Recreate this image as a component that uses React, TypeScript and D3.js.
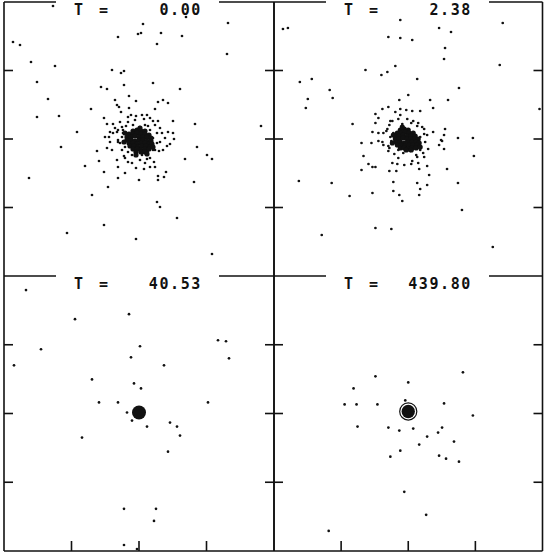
import React from "react";
import * as d3 from "d3";

// Elapsed time of each snapshot
const times = [0.0, 2.38, 40.53, 439.8];

// Star positions in model units relative to cluster centre (x right, y up)
const starsT0: [number, number][] = [
  [-86,133],[4,115],[47,122],[89,116],[-21,102],[-1,105],[2,106],[22,106],[43,103],[18,95],
  [-126,97],[-119,94],[88,85],[-108,77],[-84,73],[-27,69],[-18,66],[-15,68],[14,56],[-102,57],
  [-15,54],[-38,52],[-32,50],[41,50],[-91,40],[-10,43],[-24,39],[-3,38],[19,37],[24,39],
  [29,36],[-22,34],[-20,32],[-48,30],[-10,31],[16,30],[-18,27],[-102,22],[-80,23],[-35,21],
  [-11,22],[-8,24],[-3,23],[3,24],[8,24],[5,20],[14,18],[19,18],[34,18],[56,15],
  [-32,15],[-26,15],[-13,13],[-6,14],[1,12],[9,13],[122,13],[-62,7],[29,7],[34,6],
  [-34,2],[-30,2],[-22,7],[-16,6],[18,6],[-29,-3],[-19,-4],[21,-3],[31,-5],[35,0],
  [-78,-8],[-42,-12],[-32,-9],[-17,-11],[20,-12],[28,-7],[58,-8],[68,-16],[73,-20],[46,-20],
  [-40,-22],[-22,-21],[-14,-19],[1,-21],[8,-20],[15,-23],[-54,-27],[-21,-28],[-7,-24],[-3,-29],
  [5,-30],[11,-28],[16,-28],[-35,-33],[-14,-34],[27,-33],[19,-37],[25,-38],[-21,-39],[0,-41],
  [19,-41],[55,-43],[-110,-39],[-31,-48],[-47,-56],[18,-63],[21,-68],[38,-79],[-35,-86],[-72,-94],
  [-3,-100],[73,-115],[-24,11],[-19,17],[21,11],[26,1],[24,-11],[-27,-11],[11,-19],[-11,-23],
  [6,-24],[-21,-1],[16,14],[-17,12],[23,6],[-29,7],[-4,19],[11,21],[-15,-17],[14,-11],
  [-21,9],[-26,6],[-17,2],[-21,-3],[-14,-8],[-11,-13],[-7,-16],[3,-16],[9,-13],[16,-11],
  [18,-4],[14,1],[11,9],[6,14],[-11,17],[-16,9],
];
const coreT0: [number, number][] = [
  [-6,8],[-2,9],[2,8],[6,8],
  [-10,5],[-6,5],[-2,6],[2,5],[6,5],[10,4],
  [-12,2],[-8,2],[-4,3],[0,2],[4,2],[8,2],[12,1],
  [-12,-1],[-8,-1],[-4,-2],[0,-1],[4,-1],[8,-2],[12,-2],
  [-10,-4],[-6,-4],[-2,-5],[2,-4],[6,-4],[10,-5],[13,-5],
  [-9,-7],[-5,-7],[-1,-8],[3,-7],[7,-7],[11,-8],
  [-6,-10],[-2,-10],[2,-11],[6,-10],[10,-10],
  [-3,-13],[2,-13],[6,-13],
  [-14,6],[-15,-3],[14,-8],[1,11],[-3,-16],[8,-15],
];

const starsT1: [number, number][] = [
  [-126,110],[-121,111],[-8,119],[31,111],[43,107],[95,116],[-20,102],[-8,101],[4,99],[37,91],
  [36,80],[92,74],[-43,69],[-27,64],[-21,67],[-13,73],[9,60],[-109,57],[-97,60],[-79,49],
  [-76,41],[51,51],[-101,40],[-103,31],[0,44],[-9,39],[22,39],[40,39],[25,31],[-20,32],
  [-26,30],[-13,27],[-8,30],[-2,29],[4,28],[12,28],[132,30],[-33,25],[-56,15],[-33,16],
  [-30,21],[-16,18],[-10,20],[-1,20],[5,18],[14,12],[25,7],[37,10],[50,1],[65,1],
  [36,4],[-19,14],[9,13],[-36,7],[-30,6],[-25,6],[-15,6],[16,5],[-37,-4],[-47,-4],
  [-30,-2],[-26,-3],[-20,-7],[-20,-12],[-17,-2],[2,-12],[7,-9],[12,-11],[17,-3],[20,-10],
  [31,-6],[33,-1],[36,-10],[66,-17],[-45,-17],[-10,-19],[-5,-14],[4,-22],[9,-18],[16,-18],
  [-40,-25],[-36,-28],[-33,-28],[-16,-24],[-11,-25],[-4,-26],[3,-25],[10,-24],[19,-27],[-47,-31],
  [-19,-32],[-12,-32],[11,-30],[39,-30],[21,-36],[-110,-42],[-77,-44],[-15,-43],[9,-44],[19,-46],
  [50,-44],[-15,-52],[12,-50],[-36,-54],[-59,-57],[-9,-56],[11,-56],[-6,-62],[54,-71],[-33,-89],
  [-17,-90],[-87,-96],[85,-108],[34,-2],[-18,18],[-8,24],[10,16],[-21,10],[12,2],[9,-4],
  [-18,2],[-10,-11],[-3,-8],[-22,8],[-25,-6],[-14,-15],[15,-14],[19,4],[16,10],[-6,15],
  [3,16],[-19,-9],[8,-16],
];
const coreT1: [number, number][] = [
  [-8,9],[-4,10],[0,9],
  [-11,6],[-7,6],[-3,7],[1,6],[5,6],
  [-13,3],[-9,3],[-5,4],[-1,3],[3,3],[7,3],
  [-13,0],[-9,0],[-5,1],[-1,0],[3,0],[7,0],[10,0],
  [-12,-3],[-8,-3],[-4,-4],[0,-3],[4,-3],[8,-3],[11,-4],
  [-11,-6],[-7,-6],[-3,-7],[1,-6],[5,-6],[9,-6],
  [-8,-9],[-4,-9],[0,-10],[4,-9],[8,-9],
  [-2,-11],[3,-11],
  [-15,4],[-16,-4],[12,-8],[-6,12],
];

const starsT2: [number, number][] = [
  [-113,123],[-64,94],[-10,99],[-98,64],[-125,48],[1,67],[-8,56],[25,48],[79,73],[87,72],
  [90,55],[-47,34],[-5,30],[2,25],[-40,11],[-21,11],[69,11],[-12,1],[-7,-7],[8,-13],
  [31,-9],[38,-13],[41,-22],[-57,-24],[29,-38],[-15,-95],[17,-95],[15,-107],[-15,-131],[-2,-135],
];
const coreT2: [number, number, number][] = [[0, 1, 7]];

const starsT3: [number, number][] = [
  [-33,37],[0,31],[-55,25],[55,41],[-64,9],[-52,9],[-31,9],[-3,13],[36,10],[65,-2],
  [-51,-13],[-20,-14],[-9,-17],[5,-15],[30,-19],[34,-14],[19,-23],[46,-28],[11,-31],[-8,-37],
  [-18,-43],[31,-42],[38,-45],[51,-48],[-4,-78],[18,-101],[-80,-117],
];
const coreT3: [number, number, number][] = [[0, 2, 6.7]];
const ringT3: [number, number, number][] = [[0, 2, 8.6]];

const X_HALF = 135;
const Y_HALF = 137;

const panelsData = [
  { t: times[0], stars: starsT0, core: coreT0.map(([x, y]) => [x, y, 2.6] as [number, number, number]), ring: [] as [number, number, number][] },
  { t: times[1], stars: starsT1, core: coreT1.map(([x, y]) => [x, y, 2.6] as [number, number, number]), ring: [] as [number, number, number][] },
  { t: times[2], stars: starsT2, core: coreT2, ring: [] as [number, number, number][] },
  { t: times[3], stars: starsT3, core: coreT3, ring: ringT3 },
];

const INK = "#111";
const SW = 1.6;

function Panel({ idx, data }: { idx: number; data: (typeof panelsData)[number] }) {
  const col = idx % 2;
  const row = Math.floor(idx / 2);
  const L = 4, R = 542.5, T = 2, B = 551, MX = 274, MY = 276;
  const x0 = col ? MX : L;
  const x1 = col ? R : MX;
  const y0 = row ? MY : T;
  const y1 = row ? B : MY;
  const xs = d3.scaleLinear().domain([-X_HALF, X_HALF]).range([x0, x1]);
  const ys = d3.scaleLinear().domain([-Y_HALF, Y_HALF]).range([y1, y0]);
  const xTicks = [-X_HALF / 2, 0, X_HALF / 2];
  const yTicks = [-Y_HALF / 2, 0, Y_HALF / 2];
  const rs = (r: number) => Math.abs(xs(r) - xs(0));
  return (
    <g>
      <line x1={x0} y1={y0} x2={x0} y2={y1} stroke={INK} strokeWidth={SW} />
      <line x1={x1} y1={y0} x2={x1} y2={y1} stroke={INK} strokeWidth={SW} />
      <line x1={x0} y1={y0} x2={x0 + 52} y2={y0} stroke={INK} strokeWidth={SW} />
      <line x1={x0 + 215} y1={y0} x2={x1} y2={y0} stroke={INK} strokeWidth={SW} />
      {row === 1 && <line x1={x0} y1={y1} x2={x1} y2={y1} stroke={INK} strokeWidth={SW} />}
      {row === 1 &&
        xTicks.map((t) => (
          <line key={"xt" + t} x1={xs(t)} x2={xs(t)} y1={y1} y2={y1 - 10} stroke={INK} strokeWidth={SW} />
        ))}
      {yTicks.map((t) => (
        <g key={"yt" + t}>
          <line x1={x0} x2={x0 + 9} y1={ys(t)} y2={ys(t)} stroke={INK} strokeWidth={SW} />
          <line x1={x1 - 9} x2={x1} y1={ys(t)} y2={ys(t)} stroke={INK} strokeWidth={SW} />
        </g>
      ))}
      <g fontFamily="'DejaVu Sans Mono', monospace" fontWeight="bold" fontSize={15} fill={INK}>
        <text x={x0 + 70} y={y0 + 13}>T</text>
        <text x={x0 + 95} y={y0 + 13}>=</text>
        <text x={x0 + 198} y={y0 + 13} textAnchor="end" letterSpacing={1.6}>
          {data.t.toFixed(2)}
        </text>
      </g>
      {data.stars.map(([x, y], i) => (
        <circle key={"s" + i} cx={xs(x)} cy={ys(y)} r={1.35} fill={INK} />
      ))}
      {data.core.map(([x, y, r], i) => (
        <circle key={"c" + i} cx={xs(x)} cy={ys(y)} r={rs(r)} fill={INK} />
      ))}
      {data.ring.map(([x, y, r], i) => (
        <circle key={"r" + i} cx={xs(x)} cy={ys(y)} r={rs(r)} fill="none" stroke={INK} strokeWidth={1.2} />
      ))}
    </g>
  );
}

export default function App() {
  return (
    <svg
      width={545}
      height={554}
      style={{ position: "absolute", left: 0, top: 0, background: "#fff" }}
    >
      <rect width={545} height={554} fill="#fff" />
      {panelsData.map((d, i) => (
        <Panel key={i} idx={i} data={d} />
      ))}
    </svg>
  );
}
